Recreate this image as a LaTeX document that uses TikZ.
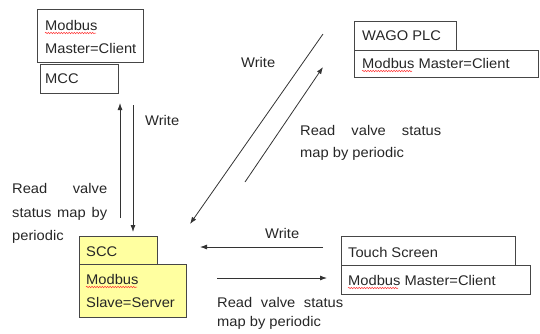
\documentclass[tikz,border=0pt]{standalone}
\usepackage{fontspec}
\setmainfont{Liberation Sans}[FakeStretch=1.05]
\usetikzlibrary{arrows.meta,decorations.pathmorphing}
\definecolor{ln}{RGB}{70,70,70}
\definecolor{sccfill}{RGB}{255,255,160}
\begin{document}
\begin{tikzpicture}[x=1pt,y=-1pt,
  box/.style={draw=ln, line width=0.9pt, anchor=north west, inner sep=0pt},
  lbl/.style={anchor=west, inner sep=0pt, text height=10pt, text depth=0pt,
    text=black!85, font=\fontsize{14}{16}\selectfont},
  conn/.style={draw=black!80, line width=0.8pt, -{Latex[length=7pt,width=5pt]}},
  squig/.style={draw=red!80, line width=0.5pt, decorate,
    decoration={snake, amplitude=0.7pt, segment length=2.6pt}}]
\useasboundingbox (0,0) rectangle (540,333);
% boxes
\node[box, minimum width=106pt, minimum height=53pt] (mbA) at (37,9) {};
\node[box, minimum width=78pt, minimum height=29pt] (mcc) at (40,64) {};
\node[box, minimum width=102pt, minimum height=29pt] (wago) at (354,21) {};
\node[box, minimum width=184pt, minimum height=27pt] (wagoM) at (354,50) {};
\node[box, fill=sccfill, minimum width=107pt, minimum height=53pt] (sccM) at (79,264) {};
\node[box, fill=sccfill, minimum width=78pt, minimum height=28pt] (scc) at (79,236) {};
\node[box, minimum width=174pt, minimum height=29pt] (ts) at (341,236) {};
\node[box, minimum width=189pt, minimum height=29pt] (tsM) at (341,265) {};
% box texts
\node[lbl] (t1) at (45,25) {Modbus};
\node[lbl] (t2) at (45,48) {Master=Client};
\node[lbl] (t3) at (45,78) {MCC};
\node[lbl] (t4) at (362,35) {WAGO PLC};
\node[lbl] (t5) at (362,63) {Modbus\ Master=Client};
\node[lbl] (t6) at (86,251) {SCC};
\node[lbl] (t7) at (86,279) {Modbus};
\node[lbl] (t8) at (86,302) {Slave=Server};
\node[lbl] (t9) at (348,252) {Touch Screen};
\node[lbl] (t10) at (348,280) {Modbus\ Master=Client};
% spelling squiggles under "Modbus"
\draw[squig] (45,33) -- (96,33);
\draw[squig] (362,71) -- (412,71);
\draw[squig] (86,287) -- (137,287);
\draw[squig] (348,288) -- (398,288);
% arrow labels
\node[lbl] (w1) at (145,120) {Write};
\node[lbl] (w2) at (241,62) {Write};
\node[lbl] (w3) at (265,233) {Write};
\node[lbl] (r1a) at (12,188) {\makebox[95pt][s]{Read valve}};
\node[lbl] (r1b) at (12,212) {\makebox[95pt][s]{status map by}};
\node[lbl] (r1c) at (12,235) {periodic};
\node[lbl] (r2a) at (300,130) {\makebox[141pt][s]{Read valve status}};
\node[lbl] (r2b) at (300,152) {map by periodic};
\node[lbl] (r3a) at (217,302) {\makebox[126pt][s]{Read valve status}};
\node[lbl] (r3b) at (217,321) {map by periodic};
% connector end points
\coordinate (upS) at (120,218); \coordinate (upE) at (120,103);
\coordinate (dnS) at (133,105); \coordinate (dnE) at (133,232);
\coordinate (dwS) at (323,34);  \coordinate (dwE) at (190,224);
\coordinate (drS) at (245,182); \coordinate (drE) at (323,67);
\coordinate (blS) at (323,247); \coordinate (blE) at (200,247);
\coordinate (brS) at (217,278); \coordinate (brE) at (327,278);
% connectors
\draw[conn] (upS) -- (upE);
\draw[conn] (dnS) -- (dnE);
\draw[conn] (dwS) -- (dwE);
\draw[conn] (drS) -- (drE);
\draw[conn] (blS) -- (blE);
\draw[conn] (brS) -- (brE);
\end{tikzpicture}
\end{document}
